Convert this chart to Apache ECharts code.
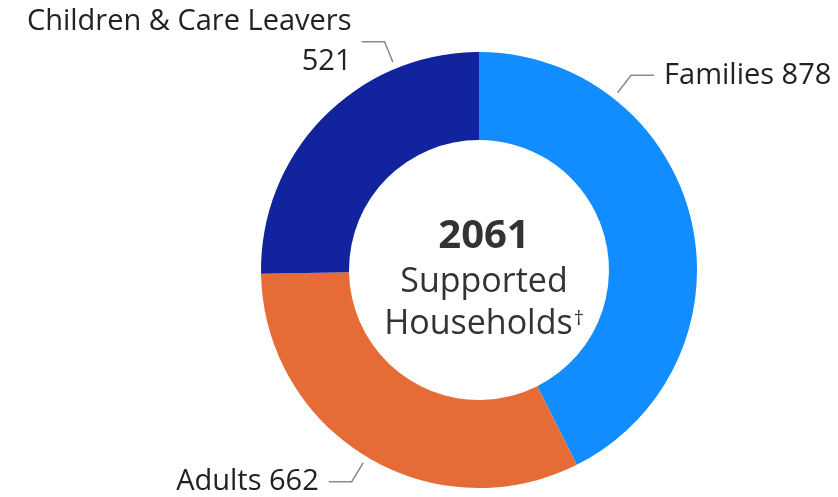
<!DOCTYPE html>
<html>
<head>
<meta charset="utf-8">
<script src="https://cdn.jsdelivr.net/npm/echarts@6/dist/echarts.min.js"></script>
<style>
  html, body { margin: 0; padding: 0; background: #fff; }
  #chart { width: 838px; height: 497px; }
</style>
</head>
<body>
<div id="chart"></div>
<script>
const categories = ['Families', 'Adults', 'Children & Care Leavers']
const values = [878, 662, 521]
const colors = ['#118DFF', '#E66C37', '#12239E']
const totalLabel = '2061'

// pie geometry and where the labels sit (angle clockwise from 12 o'clock)
const cx = 479, cy = 270
const rOuter = 218, rInner = 130
const labelAngles = [38, 211, 337.5]

const chart = echarts.init(document.getElementById('chart'))

const placeLabel = params => {
  const a = labelAngles[params.dataIndex] * Math.PI / 180
  const s = Math.sin(a), c = Math.cos(a)
  const dir = s >= 0 ? 1 : -1
  const p1 = [cx + 225 * s, cy - 225 * c]
  const p2 = [cx + 247 * s, cy - 247 * c]
  const p3 = [p2[0] + dir * 23, p2[1]]
  return {
    x: p3[0] + dir * 10,
    y: p3[1],
    align: dir > 0 ? 'left' : 'right',
    verticalAlign: 'middle',
    labelLinePoints: [p1, p2, p3]
  }
}

const option = {
  animation: false,
  title: {
    text: '{n|' + totalLabel + '}\n{s|Supported}\n{s|Households}{d|†}',
    left: cx,
    top: 208,
    textAlign: 'center',
    textStyle: {
      rich: {
        n: { fontFamily: 'Open Sans', fontWeight: 'bold', fontSize: 40, color: '#333', lineHeight: 48 },
        s: { fontFamily: 'Open Sans', fontWeight: 'normal', fontSize: 34, color: '#333', lineHeight: 42 },
        d: { fontFamily: 'Open Sans', fontWeight: 'normal', fontSize: 20, color: '#333', lineHeight: 42, verticalAlign: 'top', padding: [6, 0, 0, 1] }
      }
    }
  },
  series: [
    {
      type: 'pie',
      center: [cx, cy],
      radius: [rInner, rOuter],
      startAngle: 90,
      clockwise: true,
      avoidLabelOverlap: false,
      data: categories.map((name, i) => ({
        name: name,
        value: values[i],
        itemStyle: { color: colors[i] }
      })),
      label: {
        position: 'outside',
        fontFamily: 'Open Sans',
        fontSize: 29,
        color: '#222',
        lineHeight: 40,
        formatter: p => p.name === 'Children & Care Leavers' ? p.name + '\n' + p.value : p.name + ' ' + p.value
      },
      labelLine: {
        show: true,
        lineStyle: { color: '#8a8a8a', width: 1.5 }
      },
      labelLayout: placeLabel
    }
  ]
}

chart.setOption(option)
</script>
</body>
</html>
